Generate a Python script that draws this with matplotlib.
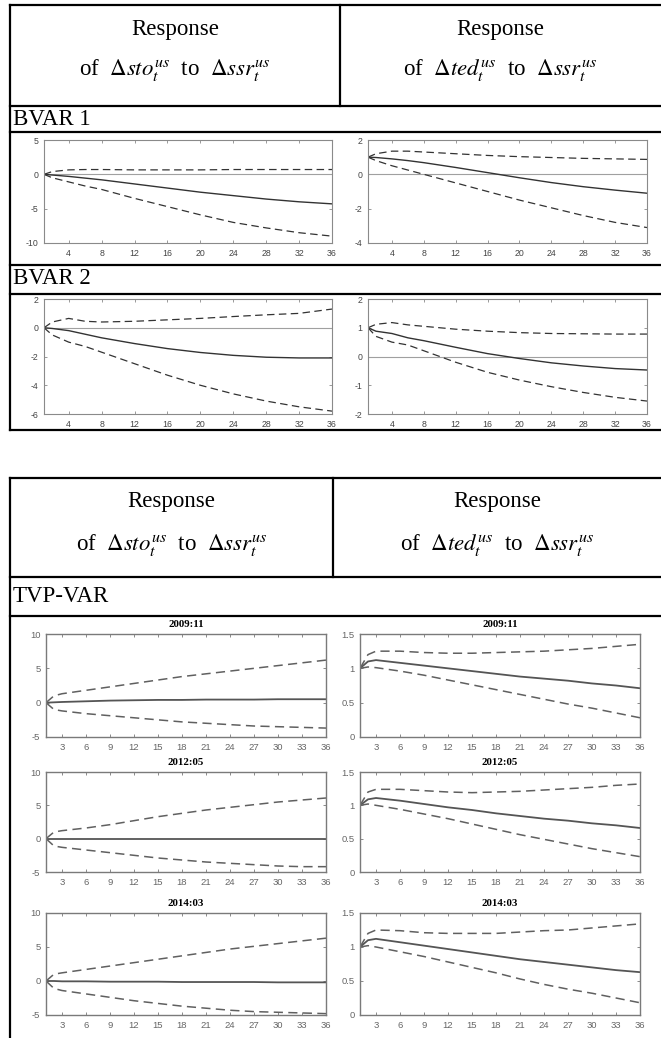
import matplotlib
matplotlib.use("Agg")
from matplotlib import pyplot
from matplotlib.lines import Line2D

W, H = 661, 1038

# ---- data ----
h_bvar = [1, 2, 4, 6, 8, 12, 16, 20, 24, 28, 32, 36]

bvar1_sto_mid = [0, -0.1, -0.3, -0.55, -0.8, -1.4, -2.0, -2.6, -3.1, -3.6, -4.0, -4.3]
bvar1_sto_up = [0, 0.4, 0.65, 0.7, 0.7, 0.65, 0.65, 0.65, 0.7, 0.7, 0.7, 0.7]
bvar1_sto_lo = [0, -0.5, -1.1, -1.7, -2.2, -3.5, -4.7, -5.9, -7.0, -7.8, -8.5, -9.0]

bvar1_ted_mid = [1, 0.98, 0.9, 0.8, 0.68, 0.4, 0.1, -0.2, -0.48, -0.72, -0.92, -1.1]
bvar1_ted_up = [1, 1.2, 1.35, 1.35, 1.3, 1.2, 1.1, 1.03, 0.98, 0.93, 0.9, 0.87]
bvar1_ted_lo = [1, 0.8, 0.5, 0.25, 0.0, -0.5, -1.0, -1.5, -1.95, -2.4, -2.8, -3.1]

bvar2_sto_mid = [0, -0.05, -0.2, -0.45, -0.7, -1.1, -1.45, -1.72, -1.92, -2.05, -2.1, -2.1]
bvar2_sto_up = [0, 0.4, 0.65, 0.45, 0.4, 0.45, 0.55, 0.65, 0.78, 0.9, 1.0, 1.3]
bvar2_sto_lo = [0, -0.5, -1.0, -1.3, -1.7, -2.5, -3.3, -4.0, -4.6, -5.1, -5.5, -5.8]

bvar2_ted_mid = [1, 0.88, 0.8, 0.65, 0.55, 0.32, 0.1, -0.07, -0.22, -0.33, -0.42, -0.47]
bvar2_ted_up = [1, 1.12, 1.18, 1.1, 1.05, 0.95, 0.88, 0.83, 0.8, 0.79, 0.78, 0.78]
bvar2_ted_lo = [1, 0.7, 0.5, 0.4, 0.2, -0.2, -0.55, -0.82, -1.05, -1.25, -1.42, -1.55]

h_tvp = [1, 2, 3, 6, 9, 12, 15, 18, 21, 24, 27, 30, 33, 36]
tvp_dates = ["2009:11", "2012:05", "2014:03"]

tvp_sto_mid = [
    [0, 0.05, 0.1, 0.2, 0.3, 0.35, 0.4, 0.4, 0.45, 0.45, 0.45, 0.5, 0.5, 0.5],
    [0, 0.0, 0.0, 0.0, 0.0, 0.0, 0.0, 0.0, 0.0, 0.0, 0.0, 0.0, 0.0, 0.0],
    [0, 0.0, -0.05, -0.05, -0.1, -0.1, -0.1, -0.15, -0.15, -0.15, -0.15, -0.2, -0.2, -0.2],
]
tvp_sto_up = [
    [0, 1.0, 1.3, 1.8, 2.3, 2.8, 3.3, 3.8, 4.2, 4.6, 5.0, 5.4, 5.8, 6.2],
    [0, 1.0, 1.2, 1.6, 2.1, 2.7, 3.3, 3.8, 4.3, 4.7, 5.1, 5.5, 5.8, 6.1],
    [0, 1.0, 1.2, 1.7, 2.2, 2.7, 3.2, 3.7, 4.2, 4.7, 5.1, 5.5, 5.9, 6.3],
]
tvp_sto_lo = [
    [0, -1.0, -1.2, -1.6, -1.9, -2.2, -2.5, -2.8, -3.0, -3.2, -3.4, -3.5, -3.6, -3.7],
    [0, -1.1, -1.3, -1.7, -2.1, -2.5, -2.9, -3.2, -3.5, -3.7, -3.9, -4.1, -4.2, -4.2],
    [0, -1.1, -1.4, -1.9, -2.4, -2.9, -3.3, -3.7, -4.0, -4.3, -4.5, -4.6, -4.7, -4.8],
]

tvp_ted_mid = [
    [1, 1.1, 1.12, 1.08, 1.04, 1.0, 0.96, 0.92, 0.88, 0.85, 0.82, 0.78, 0.75, 0.71],
    [1, 1.09, 1.11, 1.07, 1.02, 0.97, 0.93, 0.88, 0.84, 0.8, 0.77, 0.73, 0.7, 0.66],
    [1, 1.1, 1.12, 1.07, 1.02, 0.97, 0.92, 0.87, 0.82, 0.78, 0.74, 0.7, 0.66, 0.63],
]
tvp_ted_up = [
    [1, 1.2, 1.25, 1.25, 1.23, 1.22, 1.22, 1.23, 1.24, 1.25, 1.27, 1.29, 1.32, 1.35],
    [1, 1.2, 1.24, 1.24, 1.22, 1.2, 1.19, 1.2, 1.21, 1.23, 1.25, 1.27, 1.3, 1.32],
    [1, 1.2, 1.25, 1.24, 1.21, 1.2, 1.2, 1.2, 1.22, 1.24, 1.25, 1.28, 1.31, 1.34],
]
tvp_ted_lo = [
    [1, 1.02, 1.01, 0.96, 0.9, 0.83, 0.76, 0.69, 0.62, 0.55, 0.48, 0.42, 0.35, 0.28],
    [1, 1.02, 1.0, 0.94, 0.87, 0.8, 0.72, 0.64, 0.56, 0.49, 0.42, 0.35, 0.29, 0.23],
    [1, 1.02, 1.0, 0.93, 0.86, 0.78, 0.7, 0.62, 0.53, 0.45, 0.38, 0.32, 0.25, 0.18],
]

pyplot.rcParams['mathtext.fontset'] = 'stix'
pyplot.rcParams['axes.unicode_minus'] = False
SERIF = 'Liberation Serif'
SANS = 'Liberation Sans'
BIG = 16.5

fig = pyplot.figure(figsize=(W / 100, H / 100), dpi=100)


# helpers: pixel coords (from top-left) -> figure fraction
def fx(px):
    return px / W


def fy(py):
    return 1 - py / H


def hline(y, x0, x1, lw=1.6):
    fig.add_artist(Line2D([fx(x0), fx(x1)], [fy(y), fy(y)], color='black', lw=lw))


def vline(x, y0, y1, lw=1.6):
    fig.add_artist(Line2D([fx(x), fx(x)], [fy(y0), fy(y1)], color='black', lw=lw))


def add_ax(l, t, r, b):
    return fig.add_axes([fx(l), fy(b), (r - l) / W, (b - t) / H])


def header(top, bottom, xdiv, y1, y2):
    hline(top, 10, W)
    hline(bottom, 10, W)
    vline(xdiv, top, bottom)
    lines = [r'of  $\Delta sto_t^{us}$  to  $\Delta ssr_t^{us}$',
             r'of  $\Delta ted_t^{us}$  to  $\Delta ssr_t^{us}$']
    for cx, txt in zip([(10 + xdiv) / 2, (xdiv + W) / 2], lines):
        fig.text(fx(cx), fy(y1), 'Response', family=SERIF, fontsize=BIG,
                 ha='center', va='center')
        fig.text(fx(cx), fy(y2), txt, family=SERIF, fontsize=BIG,
                 ha='center', va='center')


def style_bvar(ax, ylim, yticks):
    ax.set_xlim(1, 36)
    ax.set_ylim(*ylim)
    ax.set_xticks(range(4, 37, 4))
    ax.set_yticks(yticks)
    for s in ax.spines.values():
        s.set_color('#8a8a8a')
        s.set_linewidth(0.8)
    ax.tick_params(direction='in', length=2.5, width=0.6, color='#8a8a8a',
                   labelsize=6.3, labelcolor='#444444', top=True, right=True, pad=4)
    for lab in ax.get_xticklabels() + ax.get_yticklabels():
        lab.set_family(SANS)


def draw_bvar(ax, mid, up, lo, ylim, yticks):
    ax.axhline(0, color='#a0a0a0', lw=0.8)
    ax.plot(h_bvar, mid, color='#333333', lw=1.0)
    ax.plot(h_bvar, up, color='#333333', lw=0.9, dashes=(6, 3.5))
    ax.plot(h_bvar, lo, color='#333333', lw=0.9, dashes=(6, 3.5))
    style_bvar(ax, ylim, yticks)


def draw_tvp(ax, mid, up, lo, ylim, yticks, ylabels, title):
    ax.plot(h_tvp, mid, color='#555555', lw=1.3)
    ax.plot(h_tvp, up, color='#606060', lw=1.1, dashes=(6, 3.5))
    ax.plot(h_tvp, lo, color='#606060', lw=1.1, dashes=(6, 3.5))
    ax.set_xlim(1, 36)
    ax.set_ylim(*ylim)
    ax.set_xticks(range(3, 37, 3))
    ax.set_yticks(yticks)
    ax.set_yticklabels(ylabels)
    for s in ax.spines.values():
        s.set_color('#7a7a7a')
        s.set_linewidth(1.0)
    ax.tick_params(direction='in', length=2.5, width=0.7, color='#8a8a8a',
                   labelsize=6.8, labelcolor='#666666', top=True, right=True, pad=4)
    for lab in ax.get_xticklabels() + ax.get_yticklabels():
        lab.set_family(SANS)
    ax.set_title(title, family=SERIF, fontsize=7.8, fontweight='bold', pad=5)


# ---- table 1: BVAR ----
header(5, 106, 340, 29, 70)
fig.text(fx(13), fy(120), 'BVAR 1', family=SERIF, fontsize=BIG, va='center')
hline(132, 10, W)
hline(265, 10, W)
fig.text(fx(13), fy(279), 'BVAR 2', family=SERIF, fontsize=BIG, va='center')
hline(294, 10, W)
hline(430, 10, W)
vline(10, 5, 430)

ax = add_ax(44, 140, 332, 243)
draw_bvar(ax, bvar1_sto_mid, bvar1_sto_up, bvar1_sto_lo, (-10, 5), [-10, -5, 0, 5])
ax = add_ax(368, 140, 647, 243)
draw_bvar(ax, bvar1_ted_mid, bvar1_ted_up, bvar1_ted_lo, (-4, 2), [-4, -2, 0, 2])
ax = add_ax(44, 299, 332, 414)
draw_bvar(ax, bvar2_sto_mid, bvar2_sto_up, bvar2_sto_lo, (-6, 2), [-6, -4, -2, 0, 2])
ax = add_ax(368, 299, 647, 414)
draw_bvar(ax, bvar2_ted_mid, bvar2_ted_up, bvar2_ted_lo, (-2, 2), [-2, -1, 0, 1, 2])

# ---- table 2: TVP-VAR ----
header(478, 577, 333, 501, 545)
fig.text(fx(13), fy(597), 'TVP-VAR', family=SERIF, fontsize=BIG, va='center')
hline(616, 10, W)
vline(10, 478, H)

rows = [(634, 737), (772, 872), (913, 1015)]
for i, (t, b) in enumerate(rows):
    ax = add_ax(46, t, 326, b)
    draw_tvp(ax, tvp_sto_mid[i], tvp_sto_up[i], tvp_sto_lo[i], (-5, 10),
             [-5, 0, 5, 10], ['-5', '0', '5', '10'], tvp_dates[i])
    ax = add_ax(360, t, 640, b)
    draw_tvp(ax, tvp_ted_mid[i], tvp_ted_up[i], tvp_ted_lo[i], (0, 1.5),
             [0, 0.5, 1, 1.5], ['0', '0.5', '1', '1.5'], tvp_dates[i])

fig.savefig('out.png', dpi=100)
